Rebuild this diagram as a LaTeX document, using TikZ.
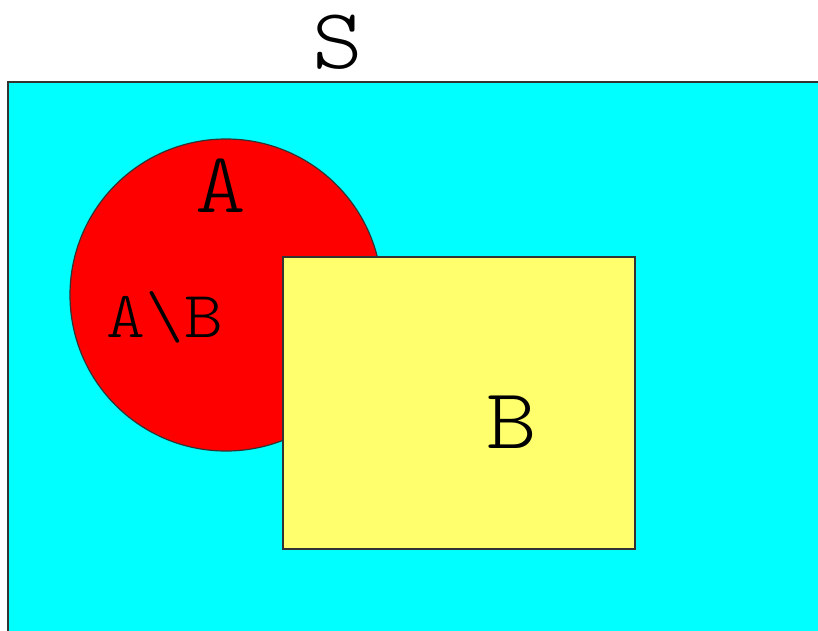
\documentclass[tikz,border=0pt]{standalone}
\usepackage{fontspec}
\setmonofont[FakeStretch=1.12]{Latin Modern Mono Light}
\definecolor{cyanbg}{RGB}{0,255,255}
\definecolor{setred}{RGB}{255,0,0}
\definecolor{setyellow}{RGB}{255,255,110}
\begin{document}
\begin{tikzpicture}[x=1pt,y=-1pt,
  lbl/.style={anchor=base,inner sep=0pt,font=\ttfamily\fontsize{86}{86}\selectfont},
  smalllbl/.style={anchor=base,inner sep=0pt,font=\ttfamily\fontsize{66}{66}\selectfont},
  edge/.style={draw=black!80,line width=1.2pt}]
\useasboundingbox (0,0) rectangle (818,630);
\clip (0,0) rectangle (818,630);
\fill[white] (0,0) rectangle (818,630);
\filldraw[fill=cyanbg,edge] (8,82) rectangle (840,650);
\filldraw[fill=setred,edge] (226,295) circle[radius=156];
\filldraw[fill=setyellow,edge] (283,257) rectangle (635,549);
\node[lbl] (S) at (338,68) {S};
\node[lbl] (A) at (221,212) {A};
\node[smalllbl] (AB) at (165,337) {A\textbackslash B};
\node[lbl] (B) at (512,448) {B};
\end{tikzpicture}
\end{document}
